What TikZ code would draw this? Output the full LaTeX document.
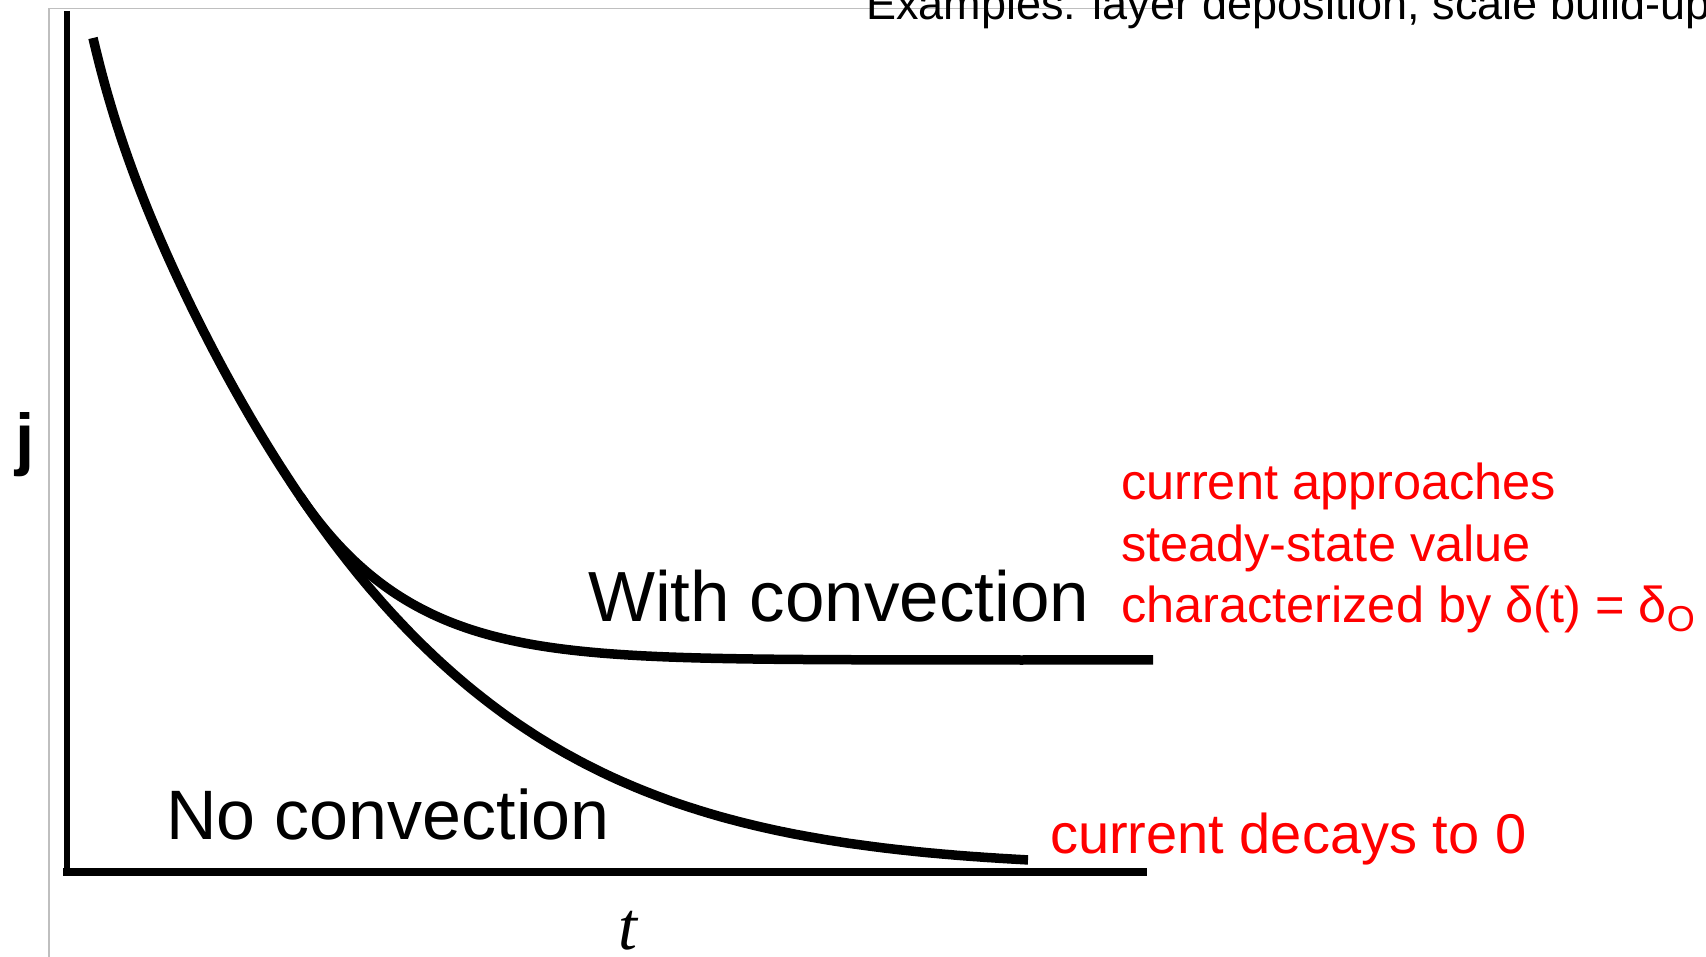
\documentclass[tikz,border=0pt]{standalone}
\usepackage{fontspec}
\setmainfont{Liberation Sans}
\newfontfamily\serifit{Liberation Serif}
\begin{document}
\begin{tikzpicture}[x=1pt,y=-1pt,
  curve/.style={line width=9.5pt, line join=round},
  frameline/.style={draw=black!25, line width=1.5pt},
  txt/.style={anchor=base west, inner sep=0pt, outer sep=0pt},
  redtxt/.style={txt, text=red, font=\fontsize{50.5}{61}\selectfont}]
\useasboundingbox (0,0) rectangle (1706,957);
% grey frame
\draw[frameline] (1181,8.5) -- (49,8.5) -- (49,957);
% header text (cut off at top)
\node[txt, font=\fontsize{45}{50}\selectfont] (ex) at (866,20) {Examples: layer deposition, scale build-up};
% axes
\coordinate (ytop) at (67,11);
\coordinate (orig) at (67,872);
\coordinate (xend) at (1147,872);
\draw[line width=6pt] (ytop) -- ([yshift=4pt]orig);
\draw[line width=7.5pt] ([xshift=-4pt]orig) -- (xend);
% no convection: decays towards the t axis
\draw[curve] plot[domain=93:1028, samples=220, smooth]
  (\x, {868-830*exp(-(0.322*((\x-93)/100)+0.0178*((\x-93)/100)^2+0.06*(1-exp(-(\x-93)/30))))});
% with convection: leaves the first curve and levels off
\draw[curve] plot[domain=300:1153, samples=160, smooth]
  (\x, {660-164*exp(-(0.00898*(\x-300)+0.05*((\x-300)/100)^2))});
% labels
\node[txt, font=\fontsize{71}{80}\selectfont] (wc) at (588,621) {With convection};
\node[txt, font=\fontsize{70}{80}\selectfont] (nc) at (166,839) {No convection};
\node[txt, font=\fontsize{69}{80}\selectfont\bfseries] (jlab) at (16,462) {j};
\node[txt, font=\fontsize{68}{76}\serifit\itshape] (tlab) at (618,949) {t};
% red annotations
\node[redtxt] (r1) at (1121,500) {current approaches};
\node[redtxt] (r2) at (1121,561) {steady-state value};
\node[redtxt] (r3) at (1121,622) {characterized by δ(t) = δ\raisebox{-9pt}{\fontsize{36}{40}\selectfont O}};
\node[txt, text=red, font=\fontsize{56}{64}\selectfont] (dec) at (1050,853) {current decays to 0};
\end{tikzpicture}
\end{document}
